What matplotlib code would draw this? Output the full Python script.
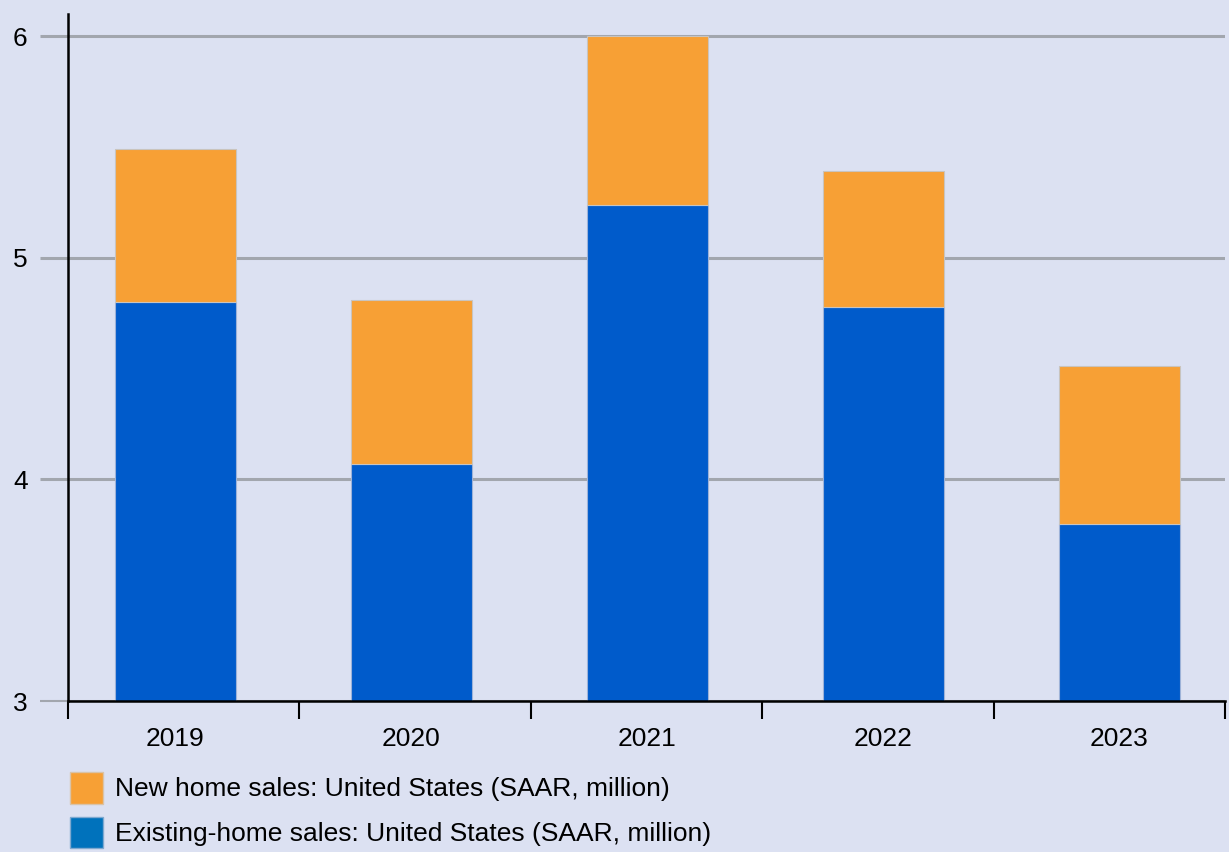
import matplotlib.pyplot as plt
from matplotlib.patches import Patch
import numpy as np

plt.rcParams['font.family'] = ['Liberation Sans', 'DejaVu Sans']

years = ['2019', '2020', '2021', '2022', '2023']
existing = [4.80, 4.07, 5.24, 4.78, 3.80]
new = [0.69, 0.74, 0.76, 0.61, 0.71]

bg = '#DCE1F2'
blue = '#005BCB'
orange = '#F7A035'
grid = '#A2A6AE'

fig = plt.figure(figsize=(12.29, 8.52), dpi=100, facecolor=bg)
ax = fig.add_axes([0.0553, 0.1772, 0.9414, 0.8064], facecolor=bg)

x = np.arange(len(years))
ax.bar(x, existing, width=0.513, color=blue, edgecolor='#9DB2D8', linewidth=0.8, zorder=2)
ax.bar(x, new, bottom=existing, width=0.513, color=orange, edgecolor='#C9C4BE', linewidth=0.8, zorder=2)

ax.set_xlim(-0.4555, 4.447)
ax.set_ylim(3, 6.1)

# y gridlines, extending left past the axis as ticks
ax.set_yticks([3, 4, 5, 6])
ax.yaxis.grid(True, color=grid, linewidth=2.2, zorder=1)
ax.tick_params(axis='y', length=20, width=2.2, color=grid, labelsize=19, pad=9)
ax.yaxis.get_major_ticks()[0].tick1line.set_color('black')
ax.yaxis.get_major_ticks()[0].tick1line.set_markeredgewidth(1.5)

# x ticks evenly split the axis, labels under the bars
ax.set_xticks(np.linspace(*ax.get_xlim(), len(years) + 1))
ax.set_xticklabels([])
ax.set_xticks(x, minor=True)
ax.set_xticklabels(years, minor=True)
ax.tick_params(axis='x', which='major', length=13, width=1.5, color='black')
ax.tick_params(axis='x', which='minor', length=0, labelsize=19, pad=19)

for s in ['top', 'right']:
    ax.spines[s].set_visible(False)
ax.spines['left'].set_linewidth(1.8)
ax.spines['bottom'].set_linewidth(1.8)
ax.spines['left'].set_zorder(3)
ax.spines['bottom'].set_zorder(3)

handles = [Patch(facecolor=orange, edgecolor='#D9C3A8', label='New home sales: United States (SAAR, million)'),
           Patch(facecolor='#0072BC', edgecolor='#7FA9D0', label='Existing-home sales: United States (SAAR, million)')]
fig.legend(handles=handles, loc='upper left', bbox_to_anchor=(0.057, 0.094), frameon=False,
           fontsize=19, handlelength=1.25, handleheight=1.47, handletextpad=0.45, labelspacing=0.5,
           borderaxespad=0, borderpad=0)

fig.savefig('out.png', dpi=100, facecolor=bg)
